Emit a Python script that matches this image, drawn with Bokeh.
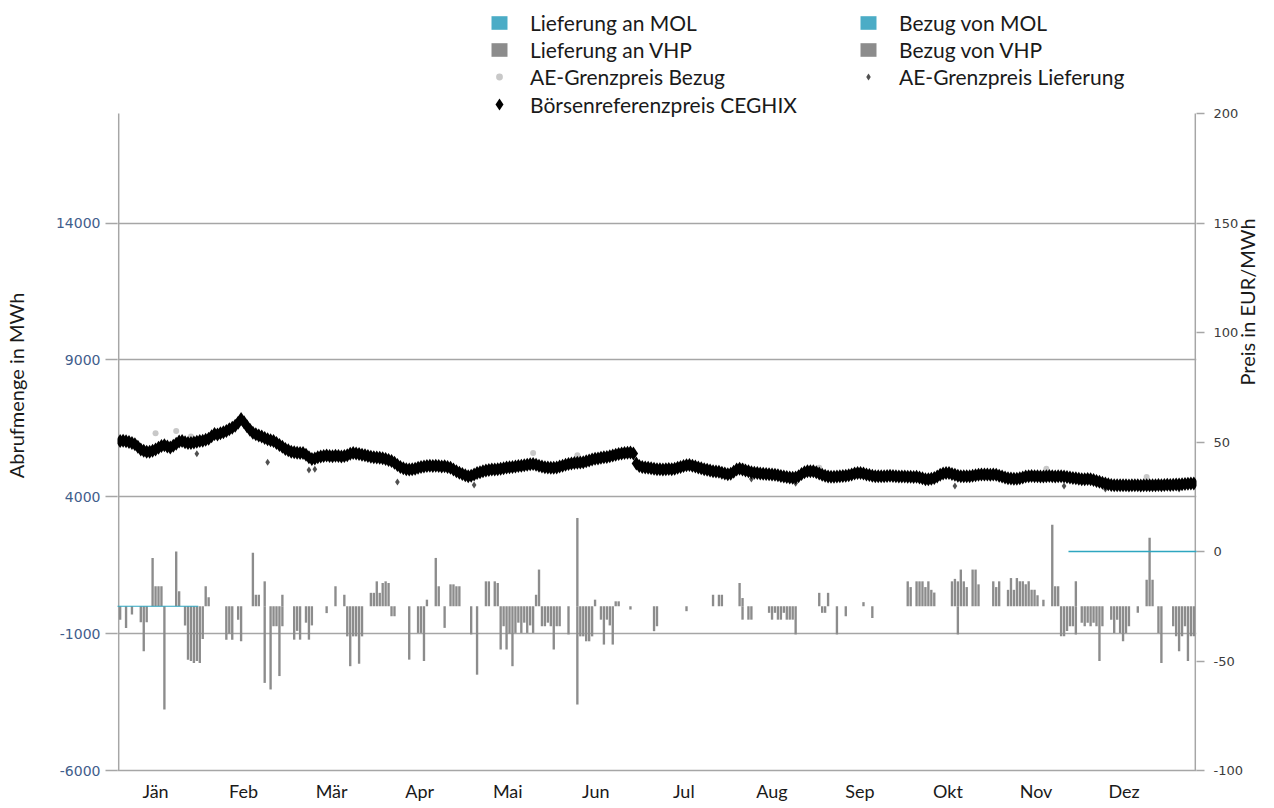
import math
import numpy as np
from bokeh.plotting import figure
from bokeh.models import (Range1d, LinearAxis, FixedTicker, Legend, LegendItem,
                          BoxAnnotation)
from bokeh.embed import file_html
from bokeh.resources import INLINE

# ---------------- data ----------------
month_labels = ["Jän", "Feb", "Mär", "Apr", "Mai", "Jun",
                "Jul", "Aug", "Sep", "Okt", "Nov", "Dez"]
left_ticks = [-6000, -1000, 4000, 9000, 14000]
right_ticks = [-100, -50, 0, 50, 100, 150, 200]
left_axis_extent = (-6000, 18000)
right_axis_extent = (-100, 200)

# Börsenreferenzpreis CEGHIX, EUR/MWh, one value per day of the year
ceghix_jan = [50.4, 50.6, 50.3, 50.0, 49.6, 49.0, 47.8, 46.6, 46.0, 45.6,
              45.5, 46.0, 46.6, 47.4, 48.2, 48.5, 47.9, 47.5, 48.3, 49.2,
              50.2, 50.4, 49.9, 49.6, 49.5, 49.8, 50.1, 50.4, 50.6, 51.0, 51.5]
ceghix_feb = [52.6, 53.6, 53.4, 54.0, 54.5, 55.0, 55.8, 56.5, 57.4, 58.8,
              60.5, 59.0, 57.2, 55.6, 54.2, 53.5, 53.0, 52.5, 51.8, 51.2,
              50.8, 50.4, 49.5, 48.6, 47.8, 46.8, 46.2, 45.5]
ceghix_mar = [45.3, 45.1, 45.0, 45.0, 44.2, 43.0, 42.2, 42.5, 43.0, 43.4,
              43.6, 43.8, 43.6, 43.5, 43.7, 43.6, 43.4, 43.6, 44.0, 44.6,
              45.0, 44.8, 44.5, 44.2, 44.0, 43.6, 43.3, 43.0, 42.9, 42.8, 42.6]
ceghix_apr = [42.2, 41.8, 41.3, 40.5, 39.5, 38.6, 38.0, 37.6, 37.4, 37.6,
              37.8, 38.2, 38.6, 38.8, 39.0, 39.2, 39.0, 39.1, 39.0, 38.8,
              38.9, 38.6, 38.2, 37.4, 36.6, 36.0, 35.4, 34.8, 34.4, 34.6]
ceghix_may = [35.2, 35.8, 36.2, 36.6, 37.0, 37.2, 37.4, 37.5, 37.6, 37.8,
              38.0, 38.3, 38.5, 38.6, 38.8, 39.0, 39.2, 39.4, 39.6, 39.8,
              39.9, 39.6, 39.2, 38.8, 38.5, 38.3, 38.2, 38.2, 38.4, 38.8, 39.2]
ceghix_jun = [39.6, 39.9, 40.2, 40.4, 40.5, 40.6, 40.8, 41.2, 41.6, 42.0,
              42.3, 42.5, 42.8, 43.0, 43.2, 43.5, 43.8, 44.2, 44.5, 44.8,
              45.0, 45.1, 45.2, 44.8, 40.2, 39.0, 38.6, 38.3, 38.2, 38.0]
ceghix_jul = [37.8, 37.6, 37.6, 37.5, 37.6, 37.7, 37.6, 37.8, 38.2, 38.6,
              39.0, 39.4, 39.5, 39.2, 38.8, 38.4, 38.0, 37.6, 37.3, 37.0,
              36.7, 36.5, 36.4, 36.0, 35.6, 35.3, 35.5, 36.4, 37.4, 37.8, 37.4]
ceghix_aug = [37.0, 36.6, 36.2, 36.0, 35.8, 35.6, 35.5, 35.4, 35.3, 35.2,
              35.0, 34.8, 34.5, 34.2, 34.0, 33.8, 33.7, 33.8, 34.4, 35.4,
              36.2, 36.6, 36.7, 36.6, 36.2, 35.6, 35.0, 34.6, 34.3, 34.1, 34.1]
ceghix_sep = [34.2, 34.4, 34.5, 34.6, 34.8, 35.2, 35.6, 35.9, 35.9, 35.6,
              35.2, 34.9, 34.6, 34.4, 34.4, 34.4, 34.4, 34.5, 34.6, 34.5,
              34.4, 34.3, 34.2, 34.2, 34.1, 34.1, 34.0, 34.1, 33.8, 33.4]
ceghix_oct = [33.0, 33.0, 33.2, 33.6, 34.2, 35.0, 35.6, 35.9, 35.8, 35.4,
              35.0, 34.6, 34.4, 34.4, 34.4, 34.4, 34.6, 34.8, 35.0, 35.2,
              35.2, 35.2, 35.1, 35.2, 35.0, 34.6, 34.2, 33.8, 33.5, 33.3, 33.2]
ceghix_nov = [33.2, 33.4, 33.8, 34.2, 34.4, 34.5, 34.4, 34.4, 34.2, 34.3,
              34.4, 34.5, 34.4, 34.3, 34.4, 34.4, 34.2, 34.0, 33.8, 33.6,
              33.4, 33.2, 33.0, 33.0, 33.1, 33.0, 32.6, 32.2, 31.8, 31.4]
ceghix_dec = [31.0, 30.7, 30.4, 30.2, 30.2, 30.2, 30.3, 30.2, 30.1, 30.2,
              30.3, 30.2, 30.1, 30.2, 30.3, 30.2, 30.2, 30.3, 30.4, 30.3,
              30.4, 30.5, 30.4, 30.5, 30.6, 30.6, 30.7, 30.8, 30.9, 31.0, 31.1]

ceghix = (ceghix_jan + ceghix_feb + ceghix_mar + ceghix_apr + ceghix_may +
          ceghix_jun + ceghix_jul + ceghix_aug + ceghix_sep + ceghix_oct +
          ceghix_nov + ceghix_dec)

# AE-Grenzpreise (only the days where they stand out of the CEGHIX band)
ae_bezug_days = [12, 19, 24, 140, 155, 211, 237, 314, 348]
ae_bezug_price = [54.0, 55.0, 52.5, 45.0, 44.0, 39.0, 38.2, 37.8, 34.0]
ae_lief_days = [26, 50, 64, 66, 94, 120, 214, 229, 283, 320, 334, 359]
ae_lief_price = [44.6, 40.8, 37.2, 37.6, 31.7, 30.4, 33.1, 31.2, 29.9, 29.9, 28.5, 28.5]

# Abrufmengen VHP (MWh), day of year index
vhp_lief_days = [11, 12, 13, 14, 19, 20, 29, 30, 45, 46, 47, 49, 55, 73, 76,
                 85, 86, 87, 88, 89, 90, 91, 104, 107, 108, 112, 113, 114, 115,
                 124, 125, 127, 128, 141, 142, 155, 161, 168, 169, 201, 203, 204,
                 210, 211, 237, 240, 252, 267, 268, 270, 271, 272, 273, 274, 275,
                 276, 282, 283, 284, 285, 286, 287, 289, 290, 291, 296, 297, 298,
                 301, 302, 303, 304, 305, 306, 307, 308, 309, 310, 311, 313, 316,
                 317, 318, 324, 348, 349, 350]
vhp_lief_mwh = [1765, 730, 730, 730, 2000, 550, 730, 330, 1950, 420, 420, 910, 420, 730, 420,
                490, 490, 910, 490, 850, 910, 850, 240, 1765, 730, 800, 800, 730, 730,
                910, 910, 910, 850, 420, 1340, 3225, 240, 180, 180, 420, 420, 420,
                850, 300, 490, 490, 150, 910, 700, 910, 910, 910, 700, 910, 600,
                500, 910, 1000, 910, 1340, 910, 700, 1340, 1340, 800, 910, 700, 910,
                600, 1030, 600, 1030, 910, 910, 800, 910, 600, 600, 400, 240, 2980,
                730, 730, 910, 970, 2500, 970]

vhp_bezug_days = [0, 2, 4, 7, 8, 9, 15, 22, 23, 24, 25, 26, 27, 28, 36, 37, 38,
                  40, 41, 49, 51, 52, 53, 54, 55, 59, 60, 61, 63, 64, 65, 70,
                  77, 78, 79, 80, 81, 82, 92, 93, 98, 101, 102, 103, 110, 119,
                  121, 129, 130, 131, 132, 133, 134, 135, 136, 137, 138, 139, 140,
                  143, 144, 145, 146, 147, 148, 149, 152, 155, 156, 157, 158, 159,
                  160, 163, 164, 165, 166, 167, 173, 181, 182, 192, 211, 213, 214,
                  220, 221, 222, 223, 224, 225, 226, 227, 228, 229, 238, 239, 243,
                  246, 255, 284, 319, 320, 321, 322, 323, 324, 326, 327, 328, 329,
                  330, 331, 332, 333, 336, 337, 338, 339, 340, 341, 342, 345, 352,
                  353, 357, 358, 359, 360, 361, 362, 363, 364]
vhp_bezug_mwh = [-490, -790, -300, -585, -1640, -585, -3770, -700, -1950, -2000, -2070, -2000, -2070, -1200, -1220, -1000, -1220,
                 -490, -1280, -2800, -3040, -730, -730, -2550, -730, -1220, -900, -1220, -600, -1220, -700, -250,
                 -1100, -2190, -1100, -1100, -2100, -1100, -365, -365, -1950, -975, -975, -2000, -790, -1030,
                 -2500, -1580, -730, -1580, -1000, -2190, -975, -600, -975, -600, -975, -700, -975,
                 -730, -730, -600, -730, -1580, -730, -730, -1030, -3590, -1100, -1100, -1280, -1280,
                 -1100, -490, -1400, -490, -700, -1400, -120, -910, -730, -180, -490, -490, -490,
                 -240, -490, -240, -490, -490, -240, -490, -490, -490, -1030, -240, -240, -1030,
                 -365, -430, -1030, -1100, -1100, -900, -730, -730, -1030, -600, -730, -600, -730,
                 -600, -730, -2000, -730, -490, -975, -490, -975, -1280, -975, -730, -240, -975,
                 -2070, -730, -1100, -1640, -1100, -730, -2000, -1100, -1100]

# MOL: no call-offs in this year
mol_lief_days, mol_lief_mwh = [], []
mol_bezug_days, mol_bezug_mwh = [], []

# ---------------- layout / styling ----------------
CYAN = "#2ea6c0"
MOL_COL = "#4bacc6"
VHP_COL = "#8c8c8c"
GRID = "#a6a6a6"
TXT = "#1a1a1a"

AXIS_PX = 657          # pixel height of the axis span (-6000..18000)
HEAD_PX = 113          # room above the axis span, used by the legend
BOTTOM_PX = 34

n_days = len(ceghix)
day_centres = np.arange(n_days) + 0.5
month_ticks = [12.5 + i * 29.85 for i in range(len(month_labels))]

l_lo, l_hi = left_axis_extent
r_lo, r_hi = right_axis_extent
l_top = l_hi + HEAD_PX * (l_hi - l_lo) / AXIS_PX
r_top = r_hi + HEAD_PX * (r_hi - r_lo) / AXIS_PX

p = figure(width=1274, height=HEAD_PX + AXIS_PX + BOTTOM_PX,
           x_range=Range1d(-0.4, n_days + 0.4), y_range=Range1d(l_lo, l_top),
           output_backend="svg", toolbar_location=None,
           min_border_left=115, min_border_right=76,
           min_border_top=0, min_border_bottom=BOTTOM_PX)
p.extra_y_ranges = {"price": Range1d(r_lo, r_top)}
p.outline_line_color = None
p.background_fill_color = "white"

# axis lines (limited to the axis span)
p.segment(x0=[0, n_days], y0=[l_lo, l_lo], x1=[0, n_days], y1=[l_hi, l_hi],
          line_color=GRID, line_width=1.5)


def bar_source(days, values):
    # an empty series still needs one (invisible) NaN entry for its legend glyph
    if not days:
        return [np.nan], [np.nan]
    return [d + 0.5 for d in days], values


# bars
x, t = bar_source(mol_lief_days, mol_lief_mwh)
r_mol_l = p.vbar(x=x, top=t, width=0.8, fill_color=MOL_COL, line_color=None)
x, t = bar_source(mol_bezug_days, mol_bezug_mwh)
r_mol_b = p.vbar(x=x, top=t, width=0.8, fill_color=MOL_COL, line_color=None)
x, t = bar_source(vhp_lief_days, vhp_lief_mwh)
r_vhp_l = p.vbar(x=x, top=t, width=0.8, fill_color=VHP_COL, line_color=None)
x, t = bar_source(vhp_bezug_days, vhp_bezug_mwh)
r_vhp_b = p.vbar(x=x, top=t, width=0.8, fill_color=VHP_COL, line_color=None)

# prices
r_ae_b = p.scatter([d + 0.5 for d in ae_bezug_days], ae_bezug_price, marker="circle",
                   size=6, fill_color="#c8c8c8", line_color=None, y_range_name="price")
r_ae_l = p.scatter([d + 0.5 for d in ae_lief_days], ae_lief_price, marker="diamond",
                   size=7, fill_color="#505050", line_color=None, y_range_name="price")
r_ceg = p.scatter(day_centres, ceghix, marker="diamond", size=14,
                  fill_color="black", line_color=None, y_range_name="price")

# zero markers of both axes
p.add_layout(BoxAnnotation(left=-18.2, right=27, bottom=-22, top=22,
                           fill_color=CYAN, fill_alpha=1, line_color=None))
p.add_layout(BoxAnnotation(left=322, right=368, bottom=-0.33, top=0.33,
                           y_range_name="price",
                           fill_color=CYAN, fill_alpha=1, line_color=None))

# axes
xa = p.xaxis[0]
xa.ticker = FixedTicker(ticks=month_ticks)
xa.major_label_overrides = {t: m for t, m in zip(month_ticks, month_labels)}
xa.major_tick_line_color = None
xa.minor_tick_line_color = None
xa.axis_line_color = GRID
xa.axis_line_width = 1.5
xa.major_label_text_font = "Lato"
xa.major_label_text_font_size = "18px"
xa.major_label_text_color = TXT
xa.major_label_standoff = 3

ya = p.yaxis[0]
ya.ticker = FixedTicker(ticks=left_ticks)
ya.major_label_overrides = {t: str(t) for t in left_ticks}
ya.axis_line_color = None
ya.major_tick_line_color = GRID
ya.major_tick_line_width = 1.5
ya.major_tick_out = 12
ya.major_tick_in = 0
ya.minor_tick_line_color = None
ya.major_label_text_font = "DejaVu Sans"
ya.major_label_text_font_size = "14px"
ya.major_label_text_color = "#3f5e8c"
ya.major_label_standoff = 5
ya.axis_label = "Abrufmenge in MWh"
ya.axis_label_text_font = "Lato"
ya.axis_label_text_font_size = "20px"
ya.axis_label_text_font_style = "normal"
ya.axis_label_text_color = TXT
ya.axis_label_standoff = 25

yr = LinearAxis(y_range_name="price", ticker=FixedTicker(ticks=right_ticks))
yr.major_label_overrides = {t: str(t) for t in right_ticks}
yr.axis_line_color = None
yr.major_tick_line_color = GRID
yr.major_tick_line_width = 1.5
yr.major_tick_out = 8
yr.major_tick_in = 0
yr.minor_tick_line_color = None
yr.major_label_text_font = "DejaVu Sans"
yr.major_label_text_font_size = "13px"
yr.major_label_text_color = "#3c3c3c"
yr.major_label_standoff = 9
yr.axis_label = "Preis in EUR/MWh"
yr.axis_label_text_font = "Lato"
yr.axis_label_text_font_size = "20px"
yr.axis_label_text_font_style = "normal"
yr.axis_label_text_color = TXT
yr.axis_label_standoff = 1
try:
    yr.axis_label_orientation = math.pi / 2
except Exception:
    pass
p.add_layout(yr, "right")

p.xgrid.visible = False
p.ygrid.grid_line_color = GRID
p.ygrid.grid_line_width = 1.5

# legends (location = bottom-left corner, px from the frame's bottom-left)
def make_legend(items, loc, gw, gh, standoff):
    return Legend(items=items, location=loc, orientation="vertical",
                  glyph_width=gw, glyph_height=gh, label_standoff=standoff,
                  spacing=2, padding=0, margin=0,
                  border_line_color=None, background_fill_alpha=0,
                  label_text_font="Lato", label_text_font_size="21px",
                  label_text_color=TXT)

leg1 = make_legend([LegendItem(label="Lieferung an MOL", renderers=[r_mol_l]),
                    LegendItem(label="Lieferung an VHP", renderers=[r_vhp_l]),
                    LegendItem(label="AE-Grenzpreis Bezug", renderers=[r_ae_b])],
                   (372, 681), 20, 17, 21)
leg2 = make_legend([LegendItem(label="Börsenreferenzpreis CEGHIX", renderers=[r_ceg])],
                   (367, 651), 30, 30, 16)
leg3 = make_legend([LegendItem(label="Bezug von MOL", renderers=[r_mol_b]),
                    LegendItem(label="Bezug von VHP", renderers=[r_vhp_b]),
                    LegendItem(label="AE-Grenzpreis Lieferung", renderers=[r_ae_l])],
                   (741, 681), 20, 17, 21)
for lg in (leg1, leg2, leg3):
    p.add_layout(lg)

open("out.html", "w").write(file_html(p, INLINE))
